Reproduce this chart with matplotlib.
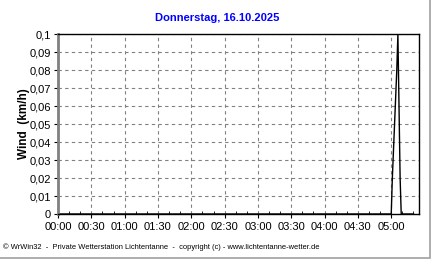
import matplotlib.pyplot as plt
from matplotlib.patches import Rectangle
import numpy as np

# Wind data (minutes since midnight, km/h)
minutes = [0, 60, 120, 180, 240, 299, 300, 301, 302, 303, 304, 305, 306, 307, 308, 309, 310, 320]
wind = [0, 0, 0, 0, 0, 0, 0, 0.02, 0.035, 0.05, 0.065, 0.08, 0.1, 0.06, 0.02, 0, 0, 0]

x_ticks = [0, 30, 60, 90, 120, 150, 180, 210, 240, 270, 300]
x_labels = ['00:00', '00:30', '01:00', '01:30', '02:00', '02:30', '03:00', '03:30', '04:00', '04:30', '05:00']
y_ticks = [0, 0.01, 0.02, 0.03, 0.04, 0.05, 0.06, 0.07, 0.08, 0.09, 0.1]
y_labels = ['0', '0,01', '0,02', '0,03', '0,04', '0,05', '0,06', '0,07', '0,08', '0,09', '0,1']

plt.rcParams['font.family'] = ['Liberation Sans', 'DejaVu Sans']

fig = plt.figure(figsize=(4.32, 2.61), dpi=100)
ax = fig.add_axes([58/432, 1 - 214/261, (419 - 58)/432, (214 - 34)/261])

ax.plot(minutes, wind, color='black', linewidth=1)

ax.set_xlim(0, 325)
ax.set_ylim(0, 0.1)
ax.set_xticks(x_ticks)
ax.set_xticklabels(x_labels)
ax.set_xticks(np.arange(0, 325, 10), minor=True)
ax.set_yticks(y_ticks)
ax.set_yticklabels(y_labels)

ax.tick_params(axis='x', which='major', direction='out', length=3, labelsize=8, pad=3)
ax.tick_params(axis='x', which='minor', direction='in', length=2)
ax.tick_params(axis='y', direction='out', length=3, labelsize=8, pad=2)

ax.grid(True, which='major', color='#808080', linestyle=(0, (3, 3)), linewidth=0.8)
for s in ['top', 'right', 'bottom']:
    ax.spines[s].set_color('black')
    ax.spines[s].set_linewidth(1)
ax.spines['left'].set_color('#808080')
ax.spines['left'].set_linewidth(2)

ax.set_ylabel('Wind  (km/h)', fontsize=8.5, fontweight='bold', labelpad=0)
fig.text(217/432, 1 - 18/261, 'Donnerstag, 16.10.2025', color='#0000ff', fontsize=8,
         fontweight='bold', ha='center', va='center')
fig.text(3/432, 1 - 247/261, '\u00a9 WrWin32  -  Private Wetterstation Lichtentanne  -  copyright (c) - www.lichtentanne-wetter.de',
         fontsize=5.4, ha='left', va='center')

# outer frame (right and bottom edges)
fig.patches.append(Rectangle((-0.01, 3/261), 1 - 2/432 + 0.01, 1.1, transform=fig.transFigure,
                             fill=False, edgecolor='#a0a0a0', linewidth=1.2))

fig.savefig('out.png', dpi=100)
